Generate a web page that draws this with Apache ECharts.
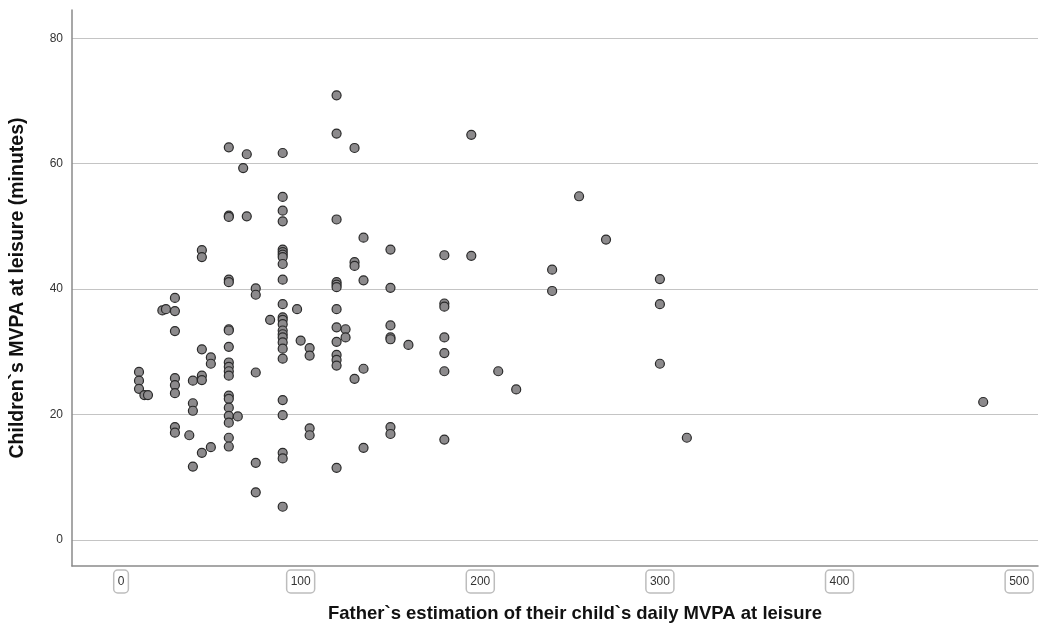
<!DOCTYPE html>
<html lang="en">
<head>
    <meta charset="UTF-8">
    <title>Father estimation vs child MVPA</title>
    <script src="https://cdn.jsdelivr.net/npm/echarts@6/dist/echarts.min.js"></script>
    <style>
        html, body { margin: 0; padding: 0; background: #fff; }
    </style>
</head>
<body>
<div id="main" style="width: 1040px;height:635px;"></div>
<script type="text/javascript">
    // father's estimate (min/day) and child's measured MVPA (min), one entry per child
    var fatherEstimate = [
        10, 10, 10, 13, 15, 23, 25,
        30, 30, 30, 30, 30, 30, 30, 30,
        38, 40, 40, 40, 40,
        45, 45, 45, 45, 45, 45,
        50, 50, 50,
        60, 60, 60, 60, 60, 60, 60, 60, 60, 60, 60, 60, 60, 60, 60, 60, 60, 60, 60,
        65, 68, 70, 70,
        75, 75, 75, 75, 75,
        83,
        90, 90, 90, 90, 90, 90, 90, 90, 90, 90, 90, 90, 90, 90, 90, 90, 90, 90, 90, 90, 90, 90, 90, 90, 90,
        98, 100, 105, 105, 105, 105,
        120, 120, 120, 120, 120, 120, 120, 120, 120, 120, 120, 120, 120,
        125, 125, 130, 130, 130, 130, 135, 135, 135, 135,
        150, 150, 150, 150, 150, 150, 150, 160,
        180, 180, 180, 180, 180, 180, 180,
        195, 195, 210, 220, 240, 240, 255, 270,
        300, 300, 300, 315, 480
    ];
    var childMvpa = [
        26.8, 25.4, 24.1, 23.1, 23.1, 36.6, 36.8,
        38.6, 36.5, 33.3, 25.8, 24.7, 23.4, 18.0, 17.1,
        16.7, 25.4, 21.8, 20.6, 11.7,
        46.2, 45.1, 30.4, 26.2, 25.5, 13.9,
        29.1, 28.1, 14.8,
        62.6, 51.7, 51.5, 41.5, 41.1, 33.6, 33.4, 30.8, 28.3, 27.6, 26.9, 26.2, 23.0, 22.5, 21.1, 19.8, 18.7, 16.3, 14.9,
        19.7, 59.3, 61.5, 51.6,
        40.1, 39.1, 26.7, 12.3, 7.6,
        35.1,
        61.7, 54.7, 52.5, 50.8, 46.3, 45.9, 45.5, 45.1, 44.0, 41.5, 37.6, 35.5, 35.1, 34.4, 33.4, 32.8, 32.3, 31.5, 30.5, 28.9, 22.3, 19.9, 13.9, 13.0, 5.3,
        36.8, 31.8, 30.6, 29.4, 17.8, 16.7,
        70.9, 64.8, 51.1, 41.1, 40.7, 40.3, 36.8, 33.9, 31.6, 29.5, 28.7, 27.8, 11.5,
        33.6, 32.3, 62.5, 44.3, 43.7, 25.7, 48.2, 41.4, 27.3, 14.7,
        46.3, 40.2, 34.2, 32.3, 32.0, 18.0, 16.9, 31.1,
        45.4, 37.7, 37.2, 32.3, 29.8, 26.9, 16.0,
        64.6, 45.3, 26.9, 24.0, 43.1, 39.7, 54.8, 47.9,
        41.6, 37.6, 28.1, 16.3, 22.0
    ];
    var xTicks = [0, 100, 200, 300, 400, 500];
    var yTicks = [0, 20, 40, 60, 80];

    var points = fatherEstimate.map(function (x, i) {
        return [x, childMvpa[i]];
    });

    var myChart = echarts.init(document.getElementById('main'));
    var option = {
        animation: false,
        textStyle: { fontFamily: 'Liberation Sans, Arial, sans-serif' },
        grid: { left: 72, right: 2, top: 10, bottom: 69 },
        xAxis: {
            type: 'value',
            min: -27.3,
            max: 510.5,
            name: 'Father`s estimation of their child`s daily MVPA at leisure',
            nameLocation: 'middle',
            nameGap: 38,
            // title sits a bit right of the plot centre in the original
            nameTextStyle: { fontSize: 18.5, fontWeight: 'bold', color: '#111', padding: [0, 0, 0, 40] },
            axisLine: { onZero: false, lineStyle: { color: '#8a8a8a', width: 1.5 } },
            axisTick: { show: false, customValues: xTicks },
            axisLabel: {
                customValues: xTicks,
                color: '#333',
                fontSize: 12,
                margin: 4,
                padding: [6, 4, 5, 4],
                borderColor: '#bdbdbd',
                borderWidth: 1.5,
                borderRadius: 4
            },
            splitLine: { show: false }
        },
        yAxis: {
            type: 'value',
            min: -4.15,
            max: 84.5,
            name: 'Children`s MVPA at leisure (minutes)',
            nameLocation: 'middle',
            nameGap: 44,
            nameTextStyle: { fontSize: 19.5, fontWeight: 'bold', color: '#111' },
            axisLine: { show: true, onZero: false, lineStyle: { color: '#8a8a8a', width: 1.5 } },
            axisTick: { show: false, customValues: yTicks },
            axisLabel: { customValues: yTicks, color: '#333', fontSize: 12, margin: 9 },
            splitLine: { show: true, lineStyle: { color: '#c4c4c4', width: 1.2 } }
        },
        series: [{
            type: 'scatter',
            data: points,
            symbolSize: 9,
            itemStyle: {
                color: '#8c8a8c',
                borderColor: '#2a2a2a',
                borderWidth: 1.2,
                opacity: 1
            }
        }]
    };
    myChart.setOption(option);
</script>
</body>
</html>
